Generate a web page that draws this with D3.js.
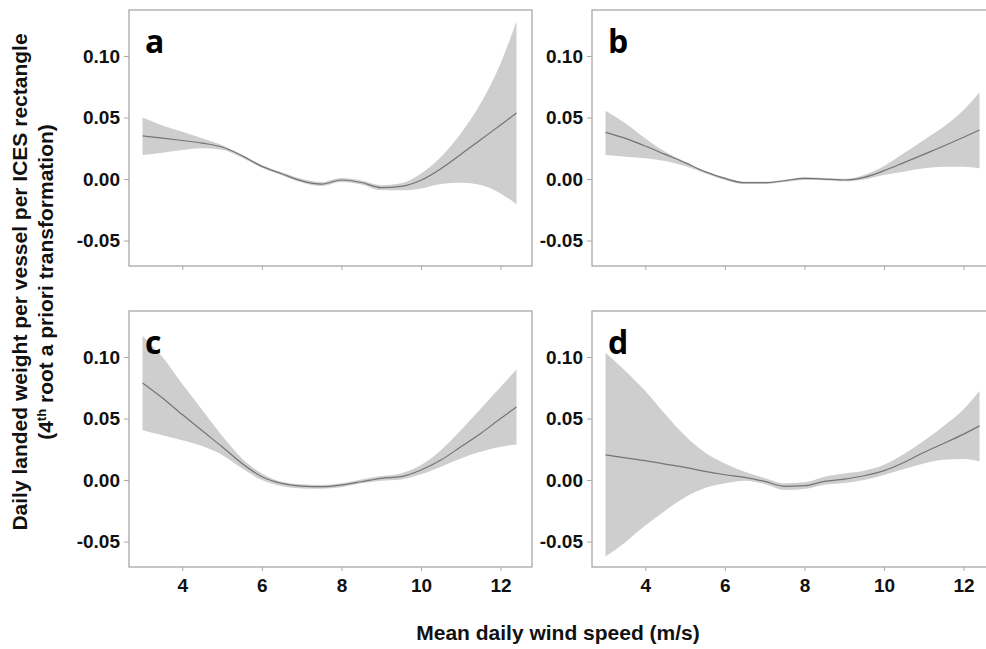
<!DOCTYPE html>
<html>
<head>
<meta charset="utf-8">
<script src="https://cdnjs.cloudflare.com/ajax/libs/d3/7.8.5/d3.min.js"></script>
<style>
  body { margin: 0; background: #fff; }
  svg { display: block; font-family: "Liberation Sans", Arial, sans-serif; }
  .tick text { font-weight: bold; fill: #111; }
</style>
</head>
<body>
<svg id="chart" width="986" height="649"></svg>
<script>
// wind speed grid (m/s)
var windSpeed = [3, 3.5, 4, 4.5, 5, 5.5, 6, 6.5, 7, 7.5, 8, 8.5, 9, 9.5, 10, 10.5, 11, 11.5, 12, 12.4];

// panel a
var fitA = [0.035, 0.0333, 0.0313, 0.0292, 0.026, 0.019, 0.0103, 0.0043, -0.0015, -0.0041, -0.0008, -0.0028, -0.007, -0.006, -0.001, 0.0084, 0.020, 0.032, 0.0439, 0.0536];
var upA  = [0.050, 0.0436, 0.0385, 0.0332, 0.0275, 0.0198, 0.0115, 0.0055, 0.0002, -0.0025, 0.0008, -0.0012, -0.005, -0.0035, 0.0045, 0.018, 0.037, 0.0615, 0.094, 0.128];
var lowA = [0.0195, 0.0214, 0.0236, 0.025, 0.0238, 0.0172, 0.0091, 0.0031, -0.0028, -0.0057, -0.0025, -0.0044, -0.009, -0.0092, -0.0076, -0.004, -0.003, -0.0049, -0.0117, -0.0205];

// panel b
var fitB = [0.0379, 0.033, 0.0268, 0.020, 0.0133, 0.006, 0.0005, -0.003, -0.003, -0.0014, 0.0005, 0.0, -0.0008, 0.0014, 0.0068, 0.0133, 0.020, 0.0268, 0.0339, 0.0398];
var upB  = [0.0556, 0.0453, 0.033, 0.0222, 0.0141, 0.0065, 0.0014, -0.0022, -0.0022, -0.0005, 0.0014, 0.0008, 0.0003, 0.0033, 0.0106, 0.0209, 0.0317, 0.0425, 0.0561, 0.0705];
var lowB = [0.0195, 0.0182, 0.0168, 0.0146, 0.0106, 0.0046, -0.0008, -0.0041, -0.0041, -0.0024, -0.0008, -0.001, -0.0019, -0.0003, 0.0033, 0.006, 0.0087, 0.010, 0.010, 0.0087];

// panel c
var fitC = [0.0789, 0.0667, 0.0532, 0.040, 0.027, 0.0135, 0.0027, -0.0027, -0.0049, -0.0054, -0.004, -0.0014, 0.0014, 0.0027, 0.0081, 0.0162, 0.027, 0.0378, 0.050, 0.0594];
var upC  = [0.117, 0.100, 0.078, 0.057, 0.036, 0.0176, 0.0054, -0.0014, -0.0035, -0.004, -0.0027, 0.0005, 0.0032, 0.0054, 0.0122, 0.0243, 0.0405, 0.058, 0.0756, 0.090];
var lowC = [0.0405, 0.0365, 0.0324, 0.0276, 0.0203, 0.0095, 0.0, -0.0049, -0.0068, -0.007, -0.0059, -0.0027, -0.0005, 0.0005, 0.0046, 0.0108, 0.0176, 0.023, 0.027, 0.0289];

// panel d
var fitD = [0.0205, 0.018, 0.0157, 0.013, 0.0103, 0.007, 0.0043, 0.0022, -0.0011, -0.0051, -0.0046, -0.0011, 0.0008, 0.0035, 0.0076, 0.0143, 0.0224, 0.0297, 0.0373, 0.044];
var upD  = [0.1035, 0.0886, 0.0724, 0.0535, 0.036, 0.0224, 0.0135, 0.0068, 0.0016, -0.0027, -0.0019, 0.0027, 0.0054, 0.0076, 0.0124, 0.0211, 0.0319, 0.044, 0.0576, 0.0724];
var lowD = [-0.0622, -0.0505, -0.037, -0.0249, -0.014, -0.0065, -0.0027, -0.0005, -0.0032, -0.0081, -0.0073, -0.0038, -0.0024, 0.0, 0.0041, 0.0089, 0.0135, 0.0165, 0.017, 0.0151];

var xTicks = [4, 6, 8, 10, 12];
var yTicks = [-0.05, 0, 0.05, 0.10];
var xTitle = "Mean daily wind speed (m/s)";

var panels = [
  { label: "a", fit: fitA, up: upA, low: lowA, left: 129, top: 10, bottom: false },
  { label: "b", fit: fitB, up: upB, low: lowB, left: 592, top: 10, bottom: false },
  { label: "c", fit: fitC, up: upC, low: lowC, left: 129, top: 311, bottom: true },
  { label: "d", fit: fitD, up: upD, low: lowD, left: 592, top: 311, bottom: true }
];

var pw = 403, ph = 256;
var svg = d3.select("#chart");

var x = d3.scaleLinear().domain([2.66, 12.79]).range([0, pw]);
var y = d3.scaleLinear().domain([-0.0707, 0.1374]).range([ph, 0]);

// plain hyphen for negative ticks, like the original
var fmt = d3.formatLocale({ decimal: ".", thousands: ",", grouping: [3], currency: ["", ""], minus: "-" }).format(".2f");

panels.forEach(function (p) {
  var g = svg.append("g").attr("transform", "translate(" + p.left + "," + p.top + ")");

  var rows = windSpeed.map(function (w, i) {
    return { w: w, fit: p.fit[i], up: p.up[i], low: p.low[i] };
  });

  var area = d3.area()
    .x(function (d) { return x(d.w); })
    .y0(function (d) { return y(d.low); })
    .y1(function (d) { return y(d.up); })
    .curve(d3.curveMonotoneX);

  var line = d3.line()
    .x(function (d) { return x(d.w); })
    .y(function (d) { return y(d.fit); })
    .curve(d3.curveMonotoneX);

  g.append("path").datum(rows).attr("d", area).attr("fill", "#cecece");
  g.append("path").datum(rows).attr("d", line)
    .attr("fill", "none").attr("stroke", "#747474").attr("stroke-width", 1.2);

  // frame
  g.append("rect").attr("width", pw).attr("height", ph)
    .attr("fill", "none").attr("stroke", "#a8a8a8").attr("stroke-width", 1.3);

  var yAxis = g.append("g")
    .call(d3.axisLeft(y).tickValues(yTicks).tickSize(5).tickPadding(4).tickFormat(fmt));
  yAxis.select(".domain").remove();
  yAxis.selectAll("line").attr("stroke", "#a8a8a8");
  yAxis.selectAll("text").style("font-size", "19px");

  var xAxis = g.append("g").attr("transform", "translate(0," + ph + ")")
    .call(d3.axisBottom(x).tickValues(xTicks).tickSize(4).tickPadding(8).tickFormat(d3.format("d")));
  xAxis.select(".domain").remove();
  xAxis.selectAll("line").attr("stroke", "#a8a8a8");
  xAxis.selectAll("text").style("font-size", "19px");
  if (!p.bottom) xAxis.selectAll("text").remove();

  g.append("text")
    .attr("x", 16).attr("y", 43)
    .style("font-family", "'Open Sans', sans-serif")
    .style("font-weight", "bold")
    .style("font-size", "32px")
    .text(p.label);
});

// y title
var yt = svg.append("text")
  .attr("transform", "translate(0,282) rotate(-90)")
  .attr("text-anchor", "middle")
  .style("font-weight", "bold")
  .style("font-size", "21px")
  .attr("fill", "#111");
yt.append("tspan").attr("x", 0).attr("y", 27).text("Daily landed weight per vessel per ICES rectangle");
var l2 = yt.append("tspan").attr("x", 0).attr("y", 53);
l2.append("tspan").text("(4");
l2.append("tspan").attr("dy", -7).style("font-size", "13px").text("th");
l2.append("tspan").attr("dy", 7).text(" root a priori transformation)");

svg.append("text")
  .attr("x", 558).attr("y", 640)
  .attr("text-anchor", "middle")
  .style("font-weight", "bold")
  .style("font-size", "21px")
  .attr("fill", "#111")
  .text(xTitle);
</script>
</body>
</html>
